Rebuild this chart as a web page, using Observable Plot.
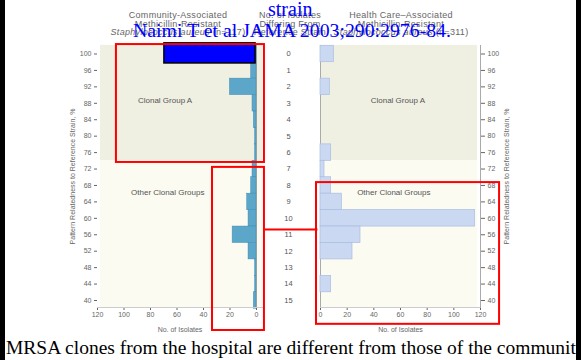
<!DOCTYPE html>
<html><head><meta charset="utf-8">
<script src="https://cdn.jsdelivr.net/npm/d3@7"></script>
<script src="https://cdn.jsdelivr.net/npm/@observablehq/plot@0.6"></script>
<style>
html,body{margin:0;padding:0;background:#fff;}
#wrap{position:relative;width:581px;height:360px;overflow:hidden;background:#fff;font-family:"Liberation Sans",Arial,sans-serif;}
#wrap svg{position:absolute;left:0;top:0;}
.hdr{position:absolute;font-size:9px;letter-spacing:0.3px;line-height:8.5px;color:#666;text-align:center;white-space:nowrap;transform:translateX(-50%);}
.cite{position:absolute;font-family:"Liberation Serif","Times New Roman",serif;color:#0000ff;white-space:nowrap;}
.bar{position:absolute;top:0;width:5px;height:360px;background:#000;}
#caption{position:absolute;left:6px;top:337px;font-family:"Liberation Serif","Times New Roman",serif;font-size:19.5px;color:#000;white-space:nowrap;}
</style></head><body>
<div id="wrap"></div>
<script>
// ---- data ----
const relatedness = [100, 96, 92, 88, 84, 80, 76, 72, 68, 64, 60, 56, 52, 48, 44, 40];
const diffLabels = [0, 1, 2, 3, 4, 5, 6, 7, 8, 9, 10, 11, 12, 13, 14, 15];
const communityCounts = [68, 4, 20, 3, 2, 1, 1, 3, 4, 7, 6, 18, 6, 1, 1, 2];
const hospitalCounts = [10, 0, 7, 0, 0, 0, 8, 3, 8, 16, 116, 30, 24, 0, 8, 0];
const xTicks = [0, 20, 40, 60, 80, 100, 120];
const bandNames = ["Clonal Group A", "Other Clonal Groups"];
const bandLow = [74, 38.3];
const bandHigh = [102.1, 74];
const bandLabelY = [88.6, 66.4];
const leftLabelX = [69, 67];
const rightLabelX = [58, 55];
// slide annotations (in panel units)
const leftBoxX1 = [105.7, 33.2], leftBoxX2 = [-6, -6];
const leftBoxY1 = [73.6, 32.7], leftBoxY2 = [102.3, 72.4];
const rightBoxX1 = [-3], rightBoxX2 = [134.3], rightBoxY1 = [34.2], rightBoxY2 = [68.7];
const connectorX = [-6, -46], connectorY = [57.3, 57.3];
const coverBoxX = [69.5, 0.7], coverBoxY = [97.7, 102.6];

// ---- layout ----
const W = 581, H = 338;
const yScale = {domain: [40, 100], range: [300, 53.5]};
const style = {background: "transparent", fontFamily: "Liberation Sans, Arial, sans-serif", fontSize: "7px", color: "#666", overflow: "visible"};
const bandRows = bandNames.map((name, i) => ({name, lo: bandLow[i], hi: bandHigh[i]}));
const colorScale = {domain: bandNames, range: ["#eff0e2", "#fbfbf1"]};
const yLabel = "Pattern Relatedness to Reference Strain, %";

const left = Plot.plot({
  width: W, height: H, style,
  marginLeft: 97, marginRight: W - 262, marginTop: 45, marginBottom: H - 307,
  x: {domain: [120, 0], range: [97, 256]},
  y: yScale,
  color: colorScale,
  marks: [
    Plot.rect(bandRows, {x1: 117.7, x2: -4.5, y1: "lo", y2: "hi", fill: "name"}),
    Plot.ruleX([0], {stroke: "#aaa", strokeWidth: 1}),
    Plot.rect(relatedness.map((p, i) => ({p, n: communityCounts[i]})), {
      x1: 0, x2: "n", y1: d => d.p - 2, y2: d => d.p + 2,
      fill: "#5ca6ca", stroke: "#3f8ab3", strokeWidth: 0.5
    }),
    Plot.text(bandNames, {x: (d, i) => leftLabelX[i], y: (d, i) => bandLabelY[i], text: d => d, fontSize: 8, fill: "#555"}),
    Plot.text(relatedness, {y: d => d, text: (d, i) => String(diffLabels[i]), frameAnchor: "right", dx: 26, textAnchor: "middle", fontSize: 7.5, fill: "#555"}),
    Plot.axisX({ticks: xTicks, tickSize: 3, tickPadding: 2, fontSize: 7, color: "#666", label: "No. of Isolates", labelAnchor: "center", labelOffset: 24, labelArrow: "none"}),
    Plot.axisY({anchor: "left", ticks: relatedness, tickSize: 3, tickPadding: 3, fontSize: 7, color: "#666", label: yLabel, labelAnchor: "center", labelOffset: 27, labelArrow: "none"}),
    Plot.frame({anchor: "bottom", stroke: "#ccc"}),
    Plot.rect([0], {x1: coverBoxX[0], x2: coverBoxX[1], y1: coverBoxY[0], y2: coverBoxY[1], fill: "#0000ff", stroke: "#000", strokeWidth: 1.5}),
    Plot.rect(leftBoxX1.map((x1, i) => ({x1, x2: leftBoxX2[i], y1: leftBoxY1[i], y2: leftBoxY2[i]})), {x1: "x1", x2: "x2", y1: "y1", y2: "y2", fill: "none", stroke: "#ff0000", strokeWidth: 2}),
    Plot.link([0], {x1: connectorX[0], x2: connectorX[1], y1: connectorY[0], y2: connectorY[1], stroke: "#ff0000", strokeWidth: 2})
  ]
});

const right = Plot.plot({
  width: W, height: H, style,
  marginLeft: 320, marginRight: W - 480, marginTop: 45, marginBottom: H - 307,
  x: {domain: [0, 120], range: [320, 480]},
  y: yScale,
  color: colorScale,
  marks: [
    Plot.rect(bandRows, {x1: 0, x2: 117.7, y1: "lo", y2: "hi", fill: "name"}),
    Plot.ruleX([0], {stroke: "#aaa", strokeWidth: 1}),
    Plot.rect(relatedness.map((p, i) => ({p, n: hospitalCounts[i]})), {
      x1: 0, x2: "n", y1: d => d.p - 2, y2: d => d.p + 2,
      fill: "#cbd8f1", stroke: "#a9bde3", strokeWidth: 0.7
    }),
    Plot.text(bandNames, {x: (d, i) => rightLabelX[i], y: (d, i) => bandLabelY[i], text: d => d, fontSize: 8, fill: "#555"}),
    Plot.axisX({ticks: xTicks, tickSize: 3, tickPadding: 2, fontSize: 7, color: "#666", label: "No. of Isolates", labelAnchor: "center", labelOffset: 24, labelArrow: "none"}),
    Plot.axisY({anchor: "right", ticks: relatedness, tickSize: 4, tickPadding: 3, fontSize: 7, color: "#666", label: yLabel, labelAnchor: "center", labelOffset: 28, labelArrow: "none"}),
    Plot.frame({anchor: "bottom", stroke: "#ccc"}),
    Plot.frame({anchor: "right", stroke: "#aaa"}),
    Plot.rect([0], {x1: rightBoxX1[0], x2: rightBoxX2[0], y1: rightBoxY1[0], y2: rightBoxY2[0], fill: "none", stroke: "#ff0000", strokeWidth: 2})
  ]
});

const wrap = document.getElementById("wrap");
wrap.appendChild(left);
wrap.appendChild(right);

function addDiv(cls, html, css) {
  const d = document.createElement("div");
  d.className = cls; d.innerHTML = html; Object.assign(d.style, css);
  wrap.appendChild(d); return d;
}
addDiv("hdr", "Community-Associated<br>Methicillin-Resistant<br><i>Staphylococcus aureus</i> (n=117)", {left: "178px", top: "11px"});
addDiv("hdr", "No. of Isolates<br>Differing From<br>Reference Strain", {left: "290px", top: "11px"});
addDiv("hdr", "Health Care–Associated<br>Methicillin-Resistant<br><i>Staphylococcus aureus</i> (n=311)", {left: "401px", top: "11px"});
addDiv("cite", "strain", {left: "268px", top: "-2px", fontSize: "20px"});
addDiv("cite", "Naimi T et al JAMA 2003;290:2976-84.", {left: "133px", top: "19px", fontSize: "19.8px"});
const cap = document.createElement("div");
cap.id = "caption";
cap.textContent = "MRSA clones from the hospital are different from those of the community";
wrap.appendChild(cap);
addDiv("bar", "", {left: "0px"});
addDiv("bar", "", {left: "576px"});
</script>
</body></html>
